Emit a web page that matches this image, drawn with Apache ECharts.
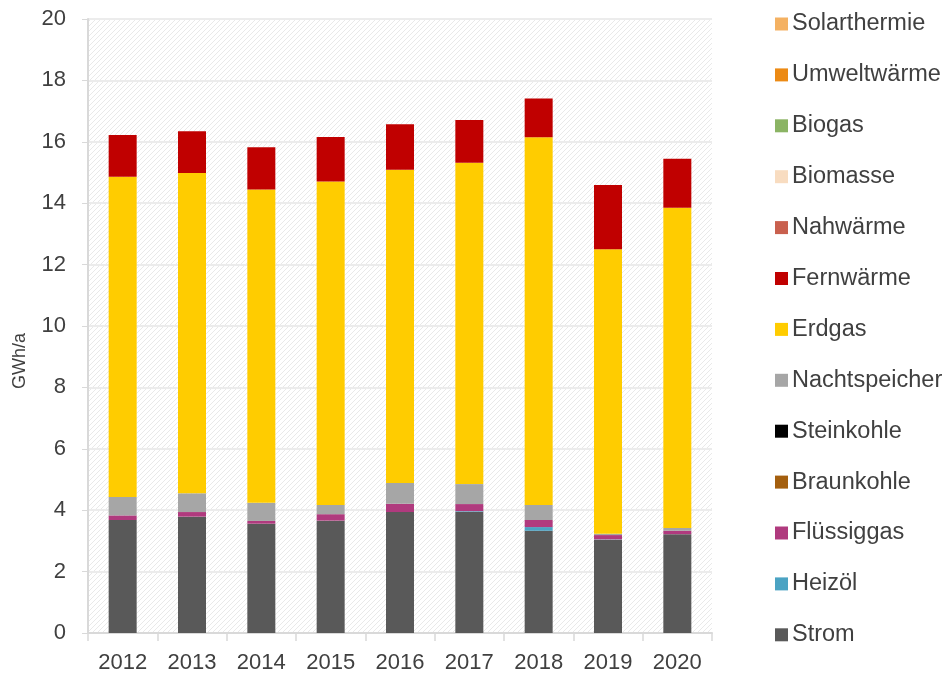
<!DOCTYPE html>
<html>
<head>
<meta charset="utf-8">
<script src="https://cdn.jsdelivr.net/npm/echarts@6/dist/echarts.min.js"></script>
<style>
  html, body { margin: 0; padding: 0; background: #fff; }
  #chart { width: 945px; height: 674px; }
</style>
</head>
<body>
<div id="chart"></div>
<script>
const years = ["2012", "2013", "2014", "2015", "2016", "2017", "2018", "2019", "2020"];
const yTicks = [0, 2, 4, 6, 8, 10, 12, 14, 16, 18, 20];

// GWh/a per Energieträger, Reihenfolge = Stapel von unten nach oben
const strom         = [3.68, 3.79, 3.56, 3.66, 3.94, 3.95, 3.33, 3.04, 3.22];
const heizoel       = [0, 0, 0, 0, 0, 0.02, 0.12, 0.01, 0];
const fluessiggas   = [0.15, 0.15, 0.09, 0.21, 0.27, 0.23, 0.23, 0.14, 0.11];
const braunkohle    = [0, 0, 0, 0, 0, 0, 0, 0, 0];
const steinkohle    = [0, 0, 0, 0, 0, 0, 0, 0, 0];
const nachtspeicher = [0.60, 0.61, 0.59, 0.30, 0.68, 0.65, 0.49, 0.04, 0.09];
const erdgas        = [10.43, 10.43, 10.21, 10.54, 10.20, 10.47, 11.98, 9.27, 10.43];
const fernwaerme    = [1.36, 1.36, 1.37, 1.45, 1.48, 1.39, 1.26, 2.09, 1.60];
const nahwaerme     = [0, 0, 0, 0, 0, 0, 0, 0, 0];
const biomasse      = [0, 0, 0, 0, 0, 0, 0, 0, 0];
const biogas        = [0, 0, 0, 0, 0, 0, 0, 0, 0];
const umweltwaerme  = [0, 0, 0, 0, 0, 0, 0, 0, 0];
const solarthermie  = [0, 0, 0, 0, 0, 0, 0, 0, 0];

const seriesDefs = [
  ["Strom", strom, "#595959"],
  ["Heizöl", heizoel, "#4BA3C3"],
  ["Flüssiggas", fluessiggas, "#B03A7E"],
  ["Braunkohle", braunkohle, "#A45F0E"],
  ["Steinkohle", steinkohle, "#000000"],
  ["Nachtspeicher", nachtspeicher, "#A6A6A6"],
  ["Erdgas", erdgas, "#FFCC00"],
  ["Fernwärme", fernwaerme, "#C00000"],
  ["Nahwärme", nahwaerme, "#C9604E"],
  ["Biomasse", biomasse, "#F8DCC0"],
  ["Biogas", biogas, "#8BB464"],
  ["Umweltwärme", umweltwaerme, "#EC8A14"],
  ["Solarthermie", solarthermie, "#F4B162"]
];

// schraffierter Hintergrund der Zeichenfläche
function hatch() {
  const c = document.createElement("canvas");
  c.width = 5; c.height = 5;
  const ctx = c.getContext("2d");
  ctx.fillStyle = "#ffffff";
  ctx.fillRect(0, 0, 5, 5);
  ctx.strokeStyle = "#e9e9e9";
  ctx.lineWidth = 1;
  ctx.beginPath();
  ctx.moveTo(0, 5); ctx.lineTo(5, 0);
  ctx.moveTo(-2.5, 2.5); ctx.lineTo(2.5, -2.5);
  ctx.moveTo(2.5, 7.5); ctx.lineTo(7.5, 2.5);
  ctx.stroke();
  return c;
}

const font = "'Liberation Sans', Arial, sans-serif";
const chart = echarts.init(document.getElementById("chart"));

chart.setOption({
  animation: false,
  textStyle: { fontFamily: font },
  grid: {
    left: 88, right: 233, top: 19, bottom: 41,
    show: true,
    borderWidth: 0,
    backgroundColor: { image: hatch(), repeat: "repeat" }
  },
  legend: {
    orient: "vertical",
    left: 770,
    top: 7,
    itemWidth: 13,
    itemHeight: 13,
    itemGap: 26.9,
    icon: "rect",
    textStyle: { fontSize: 23.5, color: "#404040", lineHeight: 24, fontFamily: font, padding: [0, 0, 0, -1] },
    data: seriesDefs.map(d => d[0]).reverse()
  },
  graphic: [{
    type: "text",
    left: 11,
    top: 333,
    rotation: Math.PI / 2,
    style: { text: "GWh/a", font: "18px " + font, fill: "#404040" }
  }],
  xAxis: {
    type: "category",
    data: years,
    axisLine: { lineStyle: { color: "#d9d9d9", width: 2 } },
    axisTick: { show: true, length: 8, lineStyle: { color: "#d9d9d9", width: 1.5 } },
    axisLabel: { fontSize: 22, color: "#404040", margin: 19 }
  },
  yAxis: {
    type: "value",
    min: 0, max: 20, interval: 2,
    axisLine: { show: true, lineStyle: { color: "#d9d9d9", width: 2 } },
    axisTick: { show: true, length: 6, lineStyle: { color: "#d9d9d9" } },
    axisLabel: {
      fontSize: 22, color: "#404040", margin: 22,
      formatter: v => (yTicks.includes(v) ? String(v) : "")
    },
    splitLine: { show: true, lineStyle: { color: "#ececec", width: 2 } }
  },
  series: seriesDefs.map(([name, values, color]) => ({
    name,
    type: "bar",
    stack: "total",
    barWidth: 28,
    data: values,
    itemStyle: { color }
  }))
});
</script>
</body>
</html>
